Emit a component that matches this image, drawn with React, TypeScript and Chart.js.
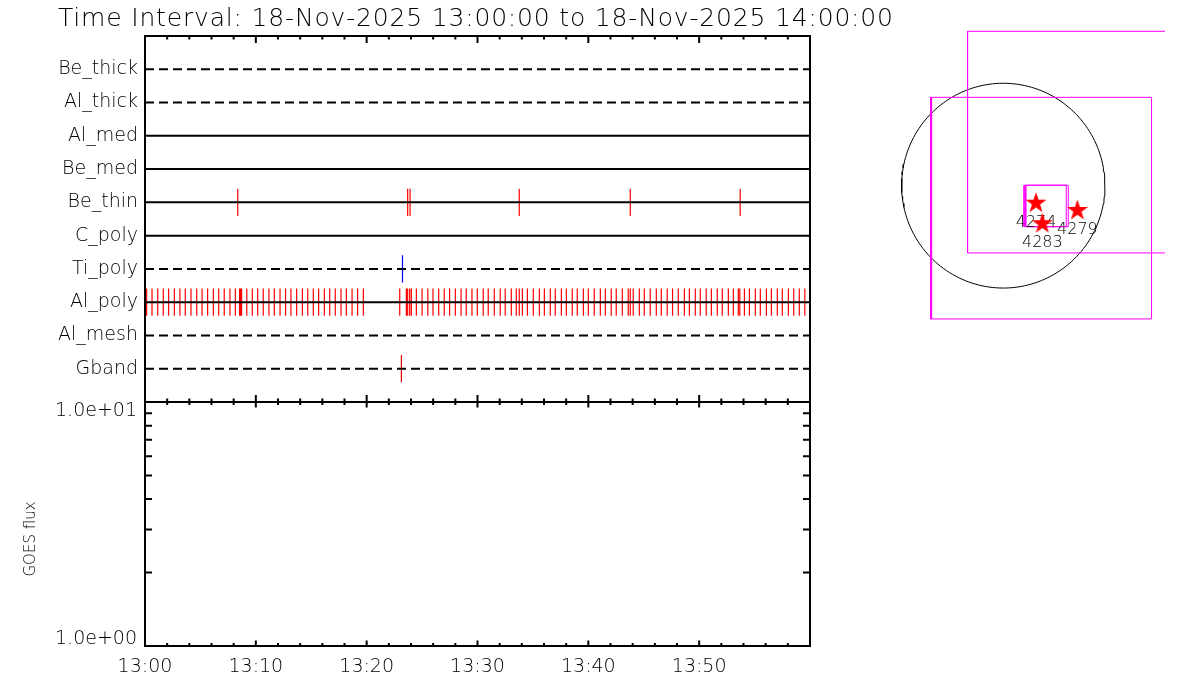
import React, { useEffect, useRef } from 'react';
import { Chart, registerables } from 'chart.js';

Chart.register(...registerables);

// ---------------- data ----------------
const TITLE = 'Time Interval: 18-Nov-2025 13:00:00 to 18-Nov-2025 14:00:00';
const CHANNELS = ['Be_thick', 'Al_thick', 'Al_med', 'Be_med', 'Be_thin', 'C_poly', 'Ti_poly', 'Al_poly', 'Al_mesh', 'Gband'];
const CHANNEL_DASHED = [true, true, false, false, false, false, true, false, true, true];

// time axis, seconds after 18-Nov-2025 13:00:00
const TIME_MIN = 0;
const TIME_MAX = 3600;
const TIME_MAJOR_STEP = 600;
const TIME_MINOR_STEP = 120;
const TIME_TICK_LABELS = ['13:00', '13:10', '13:20', '13:30', '13:40', '13:50'];

// event times (seconds after 13:00:00) per channel
const EVENTS_BE_THIN = [502, 1422, 1435, 2026, 2627, 3222];
const EVENTS_TI_POLY = [1394];
const EVENTS_GBAND = [1388];
const EVENTS_AL_POLY = [
  9, 38, 69, 99, 128, 159, 189, 218, 249, 280, 309, 339, 370, 399, 429, 460, 489,
  512, 518, 523, 551, 581, 610, 640, 671, 700, 731, 761, 790, 821, 852, 881, 911,
  940, 971, 1000, 1030, 1061, 1090, 1121, 1151, 1182,
  1379, 1415, 1422, 1433, 1442, 1469, 1500, 1531, 1559, 1590, 1620, 1649, 1680,
  1711, 1739, 1770, 1799, 1831, 1858, 1891, 1923, 1950, 1983, 2010, 2026, 2043,
  2070, 2102, 2135, 2162, 2194, 2221, 2254, 2281, 2313, 2340, 2373, 2400, 2432,
  2465, 2492, 2524, 2551, 2584, 2616, 2627, 2643, 2676, 2703, 2735, 2768, 2795,
  2827, 2856, 2887, 2920, 2947, 2979, 3006, 3038, 3066, 3098, 3125, 3158, 3185,
  3212, 3220, 3245, 3272, 3304, 3331, 3364, 3391, 3423, 3450, 3483, 3512, 3542, 3572,
];

// GOES panel (empty)
const GOES_TIMES: number[] = [];
const GOES_FLUX: number[] = [];
const GOES_MIN = 1;
const GOES_MAX = 10;
const GOES_TICK_LABELS = ['1.0e+00', '1.0e+01'];
const GOES_MINOR = [2, 3, 4, 5, 6, 7, 8, 9];
const GOES_TITLE = 'GOES flux';

// map (arcsec)
const SUN_RADIUS = 968;
const MAP_X_RANGE = [-1250, 1540];
const MAP_Y_RANGE = [-1270, 1566];
const FOV_A_X = [-340, 1760];
const FOV_A_Y = [-636, 1459];
const FOV_B_X = [-693, 1412];
const FOV_B_Y = [-1260, 835];
const FOV_B_EDGE_X = [-684, -684];
const FOV_C1_X = [198, 600];
const FOV_C2_X = [214, 619];
const FOV_C_Y = [-388, 4];
const AR_NUMBERS = ['4274', '4283', '4279'];
const AR_X = [312, 372, 706];
const AR_Y = [-161, -355, -230];

// ---------------- style ----------------
const FAMILY = '"DejaVu Sans", sans-serif';
const WEIGHT = 200;

const rowValue = (i: number) => CHANNELS.length - i;

const tickSegments = (times: number[], row: number, half = 0.41) =>
  times.flatMap((t) => [
    { x: t, y: row - half },
    { x: t, y: row + half },
    { x: t, y: null as any },
  ]);

const rect = (xs: number[], ys: number[]) => [
  { x: xs[0], y: ys[0] },
  { x: xs[1], y: ys[0] },
  { x: xs[1], y: ys[1] },
  { x: xs[0], y: ys[1] },
  { x: xs[0], y: ys[0] },
];

function makeStar(): HTMLCanvasElement {
  const c = document.createElement('canvas');
  c.width = 24;
  c.height = 24;
  const g = c.getContext('2d')!;
  g.fillStyle = '#ff0000';
  g.beginPath();
  const R = 11;
  const r = 4.3;
  for (let k = 0; k < 10; k++) {
    const ang = -Math.PI / 2 + (k * Math.PI) / 5;
    const rad = k % 2 === 0 ? R : r;
    const px = 12 + rad * Math.cos(ang);
    const py = 12.5 + rad * Math.sin(ang);
    if (k === 0) g.moveTo(px, py);
    else g.lineTo(px, py);
  }
  g.closePath();
  g.fill();
  return c;
}

const noPad = (s: any) => {
  s.paddingTop = 0;
  s.paddingBottom = 0;
  s.paddingLeft = 0;
  s.paddingRight = 0;
};

export default function App() {
  const c1 = useRef<HTMLCanvasElement>(null);
  const c2 = useRef<HTMLCanvasElement>(null);
  const c3 = useRef<HTMLCanvasElement>(null);

  useEffect(() => {
    const events = [
      { times: EVENTS_BE_THIN, channel: 'Be_thin', color: '#ff0000' },
      { times: EVENTS_TI_POLY, channel: 'Ti_poly', color: '#0000ff' },
      { times: EVENTS_AL_POLY, channel: 'Al_poly', color: '#ff0000' },
      { times: EVENTS_GBAND, channel: 'Gband', color: '#e00000' },
    ];

    // ---------- top panel ----------
    const topFrame = {
      id: 'topFrame',
      afterDraw(chart: any) {
        const { ctx, chartArea: a, scales } = chart;
        const x = scales.x;
        ctx.save();
        ctx.strokeStyle = '#000';
        ctx.lineWidth = 2;
        ctx.strokeRect(a.left, a.top, a.right - a.left, a.bottom - a.top);
        ctx.beginPath();
        for (let t = TIME_MIN; t <= TIME_MAX; t += TIME_MINOR_STEP) {
          const px = x.getPixelForValue(t);
          const len = t % TIME_MAJOR_STEP === 0 ? 7 : 3.5;
          ctx.moveTo(px, a.top);
          ctx.lineTo(px, a.top + len);
          ctx.moveTo(px, a.bottom);
          ctx.lineTo(px, a.bottom - len);
        }
        ctx.stroke();
        ctx.fillStyle = '#000';
        ctx.font = `${WEIGHT} 25px ${FAMILY}`;
        ctx.textAlign = 'left';
        ctx.textBaseline = 'alphabetic';
        const w0 = ctx.measureText(TITLE).width;
        (ctx as any).letterSpacing = `${Math.max(0, (835 - w0) / (TITLE.length - 1))}px`;
        ctx.fillText(TITLE, 58, 26);
        (ctx as any).letterSpacing = '0px';
        ctx.restore();
      },
    };

    const chart1 = new Chart(c1.current!, {
      type: 'line',
      data: {
        datasets: [
          ...CHANNELS.map((name, i) => ({
            label: name,
            data: [
              { x: TIME_MIN, y: rowValue(i) },
              { x: TIME_MAX, y: rowValue(i) },
            ],
            borderColor: '#000',
            borderWidth: 2,
            borderDash: CHANNEL_DASHED[i] ? [9, 5] : [],
            pointRadius: 0,
            order: 0,
          })),
          ...events.map((ev) => ({
            label: ev.channel + ' events',
            data: tickSegments(ev.times, rowValue(CHANNELS.indexOf(ev.channel))),
            borderColor: ev.color,
            borderWidth: 1.2,
            pointRadius: 0,
            spanGaps: false,
            order: 1,
          })),
        ] as any,
      },
      options: {
        animation: false,
        responsive: false,
        events: [],
        layout: { padding: { left: 0, right: 1200 - 810, top: 36, bottom: 2 } },
        plugins: { legend: { display: false }, tooltip: { enabled: false } },
        scales: {
          x: { type: 'linear', min: TIME_MIN, max: TIME_MAX, display: false, afterFit: noPad },
          y: {
            type: 'linear',
            min: 0,
            max: CHANNELS.length + 1,
            afterFit: (s: any) => {
              s.width = 145;
              noPad(s);
            },
            grid: { display: false, drawTicks: false },
            border: { display: false },
            ticks: {
              stepSize: 1,
              autoSkip: false,
              padding: 7,
              color: '#000',
              font: { family: FAMILY, size: 19, weight: WEIGHT as any },
              callback: (v: any) => (v >= 1 && v <= CHANNELS.length ? CHANNELS[CHANNELS.length - v] : ''),
            },
          },
        },
      },
      plugins: [topFrame],
    } as any);

    // ---------- GOES panel ----------
    const bottomFrame = {
      id: 'bottomFrame',
      afterDraw(chart: any) {
        const { ctx, chartArea: a, scales } = chart;
        const x = scales.x;
        const y = scales.y;
        ctx.save();
        ctx.strokeStyle = '#000';
        ctx.lineWidth = 2;
        ctx.strokeRect(a.left, a.top, a.right - a.left, a.bottom - a.top);
        ctx.beginPath();
        for (let t = TIME_MIN; t <= TIME_MAX; t += TIME_MINOR_STEP) {
          const px = x.getPixelForValue(t);
          const len = t % TIME_MAJOR_STEP === 0 ? 5.5 : 3;
          ctx.moveTo(px, a.top);
          ctx.lineTo(px, a.top + len);
          ctx.moveTo(px, a.bottom);
          ctx.lineTo(px, a.bottom - len);
        }
        for (const v of GOES_MINOR) {
          const py = y.getPixelForValue(v);
          ctx.moveTo(a.left, py);
          ctx.lineTo(a.left + 7, py);
          ctx.moveTo(a.right, py);
          ctx.lineTo(a.right - 7, py);
        }
        ctx.stroke();
        ctx.fillStyle = '#000';
        ctx.font = `${WEIGHT} 19px ${FAMILY}`;
        ctx.textAlign = 'right';
        ctx.textBaseline = 'alphabetic';
        ctx.fillText(GOES_TICK_LABELS[1], a.left - 8, y.getPixelForValue(GOES_MAX) + 14);
        ctx.fillText(GOES_TICK_LABELS[0], a.left - 8, y.getPixelForValue(GOES_MIN) - 2);
        ctx.translate(31, 159);
        ctx.rotate(-Math.PI / 2);
        ctx.textAlign = 'center';
        ctx.textBaseline = 'middle';
        ctx.font = `${WEIGHT} 15px ${FAMILY}`;
        ctx.fillText(GOES_TITLE, 0, 0);
        ctx.restore();
      },
    };

    const chart2 = new Chart(c2.current!, {
      type: 'line',
      data: {
        datasets: [
          {
            label: 'GOES',
            data: GOES_TIMES.map((t, i) => ({ x: t, y: GOES_FLUX[i] })),
            borderColor: '#000',
            borderWidth: 1,
            pointRadius: 0,
          },
        ],
      },
      options: {
        animation: false,
        responsive: false,
        events: [],
        layout: { padding: { left: 0, right: 1200 - 810, top: 22, bottom: 0 } },
        plugins: { legend: { display: false }, tooltip: { enabled: false } },
        scales: {
          x: {
            type: 'linear',
            min: TIME_MIN,
            max: TIME_MAX,
            afterFit: (s: any) => {
              s.height = 54;
              noPad(s);
            },
            grid: { display: false, drawTicks: false },
            border: { display: false },
            ticks: {
              stepSize: TIME_MAJOR_STEP,
              includeBounds: false,
              autoSkip: false,
              maxRotation: 0,
              padding: 10,
              color: '#000',
              font: { family: FAMILY, size: 19, weight: WEIGHT as any },
              callback: (v: any) => {
                const k = Math.round(v / TIME_MAJOR_STEP);
                return v % TIME_MAJOR_STEP === 0 && k < TIME_TICK_LABELS.length ? TIME_TICK_LABELS[k] : '';
              },
            },
          },
          y: {
            type: 'logarithmic',
            min: GOES_MIN,
            max: GOES_MAX,
            afterFit: (s: any) => {
              s.width = 145;
              noPad(s);
            },
            grid: { display: false, drawTicks: false },
            border: { display: false },
            ticks: { display: false },
          },
        },
      },
      plugins: [bottomFrame],
    } as any);

    // ---------- map ----------
    const star = makeStar();
    const limb: { x: number; y: number }[] = [];
    for (let d = 0; d <= 360; d += 2) {
      const r = (d * Math.PI) / 180;
      limb.push({ x: SUN_RADIUS * Math.cos(r), y: SUN_RADIUS * Math.sin(r) });
    }
    const arLabels = {
      id: 'arLabels',
      beforeDatasetDraw(chart: any, args: any) {
        if (args.index !== 0) return;
        const { ctx, scales } = chart;
        ctx.save();
        ctx.fillStyle = '#000';
        ctx.font = `${WEIGHT} 16px ${FAMILY}`;
        ctx.textAlign = 'center';
        ctx.textBaseline = 'middle';
        AR_NUMBERS.forEach((n, i) => {
          ctx.fillText(n, scales.x.getPixelForValue(AR_X[i]), scales.y.getPixelForValue(AR_Y[i]) + 20);
        });
        ctx.restore();
      },
    };
    const magenta = '#ff00ff';
    const chart3 = new Chart(c3.current!, {
      type: 'scatter',
      data: {
        datasets: [
          {
            label: 'AR',
            data: AR_X.map((x, i) => ({ x, y: AR_Y[i] })),
            pointStyle: star,
            pointRadius: 11,
            showLine: false,
          },
          { label: 'FOV C2', data: rect(FOV_C2_X, FOV_C_Y), showLine: true, borderColor: magenta, borderWidth: 1, pointRadius: 0 },
          { label: 'FOV C1', data: rect(FOV_C1_X, FOV_C_Y), showLine: true, borderColor: magenta, borderWidth: 1, pointRadius: 0 },
          {
            label: 'FOV B edge',
            data: [
              { x: FOV_B_EDGE_X[0], y: FOV_B_Y[0] },
              { x: FOV_B_EDGE_X[1], y: FOV_B_Y[1] },
            ],
            showLine: true,
            borderColor: magenta,
            borderWidth: 1.5,
            pointRadius: 0,
          },
          { label: 'FOV B', data: rect(FOV_B_X, FOV_B_Y), showLine: true, borderColor: magenta, borderWidth: 1, pointRadius: 0 },
          { label: 'FOV A', data: rect(FOV_A_X, FOV_A_Y), showLine: true, borderColor: magenta, borderWidth: 1, pointRadius: 0 },
          { label: 'Limb', data: limb, showLine: true, borderColor: '#000', borderWidth: 1, pointRadius: 0 },
        ] as any,
      },
      options: {
        animation: false,
        responsive: false,
        events: [],
        layout: { padding: { left: 10, right: 35, top: 20, bottom: 20 } },
        plugins: { legend: { display: false }, tooltip: { enabled: false } },
        scales: {
          x: { type: 'linear', min: MAP_X_RANGE[0], max: MAP_X_RANGE[1], display: false },
          y: { type: 'linear', min: MAP_Y_RANGE[0], max: MAP_Y_RANGE[1], display: false },
        },
      },
      plugins: [arLabels],
    } as any);

    return () => {
      chart1.destroy();
      chart2.destroy();
      chart3.destroy();
    };
  }, []);

  return (
    <div style={{ position: 'fixed', left: 0, top: 0, width: 1200, height: 700, background: '#fff', overflow: 'hidden' }}>
      <canvas ref={c1} width={1200} height={404} style={{ position: 'absolute', left: 0, top: 0, display: 'block' }} />
      <canvas ref={c2} width={1200} height={320} style={{ position: 'absolute', left: 0, top: 380, display: 'block' }} />
      <canvas ref={c3} width={340} height={340} style={{ position: 'absolute', left: 860, top: 0, display: 'block' }} />
    </div>
  );
}
